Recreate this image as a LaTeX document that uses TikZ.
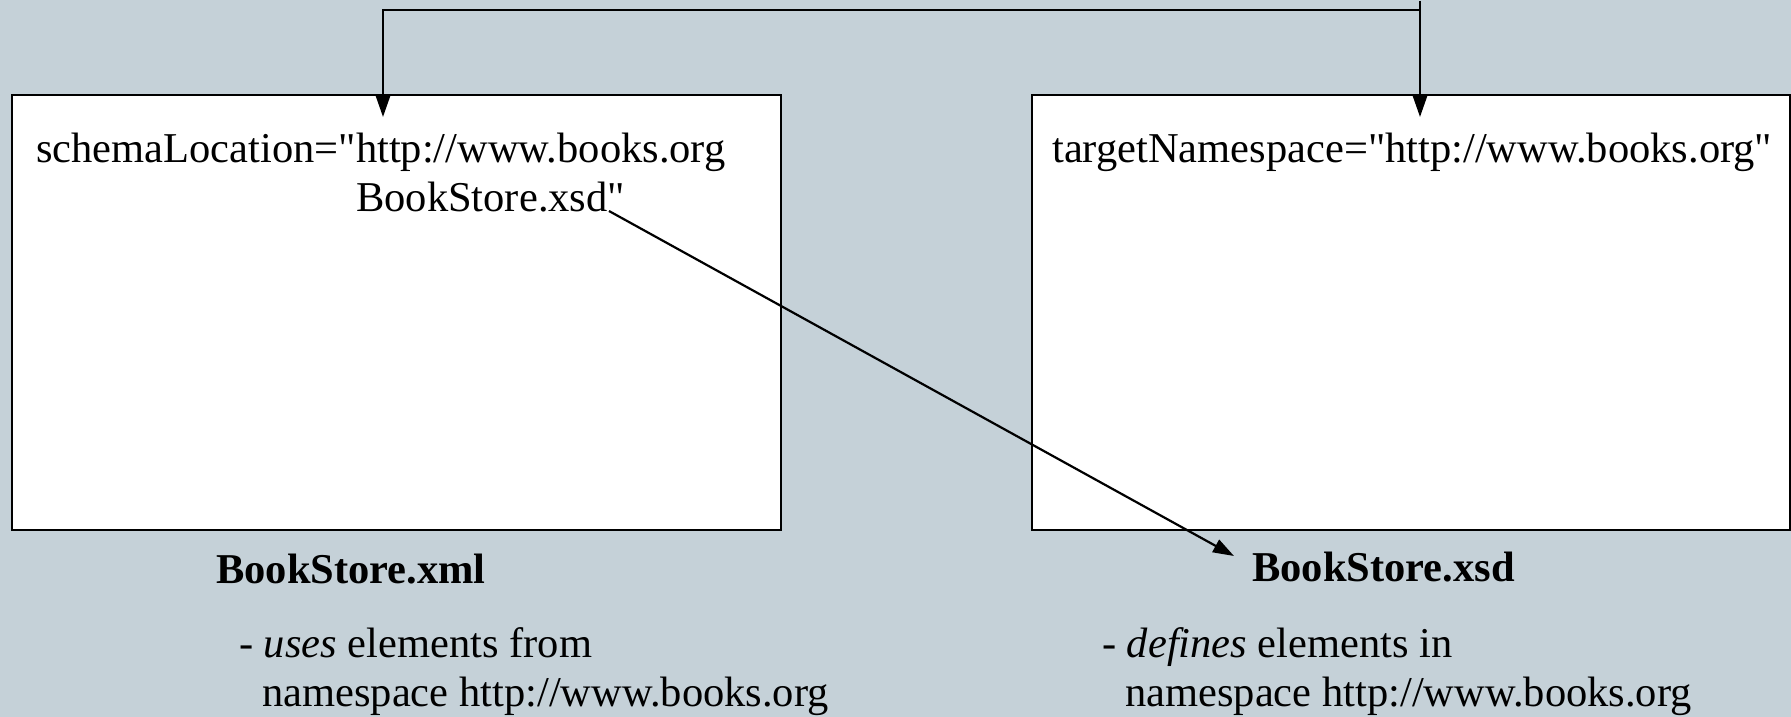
\documentclass[tikz,border=0pt]{standalone}
\usepackage{fontspec}
\newfontfamily\lser{Liberation Serif}
\usetikzlibrary{arrows.meta}
\definecolor{bgc}{RGB}{197,209,216}
\tikzset{
  docbox/.style={draw=black, line width=1.8pt, fill=white, anchor=north west, inner sep=0pt},
  txt/.style={anchor=base west, inner sep=0pt, font=\lser\fontsize{42.5}{50}\selectfont},
  ttl/.style={anchor=base west, inner sep=0pt, font=\lser\fontsize{42.5}{50}\selectfont\bfseries},
  conn/.style={line width=2.2pt, -{Triangle[length=21pt,width=14pt]}}
}
\begin{document}
\begin{tikzpicture}[x=1pt,y=-1pt]
\fill[bgc] (0,0) rectangle (1791,717);
\useasboundingbox (0,0) rectangle (1791,717);
\node[docbox, minimum width=769pt, minimum height=435pt] (xmlbox) at (11,94) {};
\node[docbox, minimum width=758pt, minimum height=435pt] (xsdbox) at (1031,94) {};
\node[txt] (loc1) at (36,162) {schemaLocation="http://www.books.org};
\node[txt] (loc2) at (356,211) {BookStore.xsd"};
\node[txt] (tns) at (1052,162) {targetNamespace="http://www.books.org"};
\node[ttl] (xmlname) at (216,583) {BookStore.xml};
\node[ttl] (xsdname) at (1252,581) {BookStore.xsd};
\node[txt] (uses1) at (239,657) {- \textit{uses} elements from};
\node[txt] (uses2) at (262,706) {namespace http://www.books.org};
\node[txt] (def1) at (1102,657) {- \textit{defines} elements in};
\node[txt] (def2) at (1125,706) {namespace http://www.books.org};
\coordinate (topR) at (1420,1);
\coordinate (bend) at (1420,10);
\coordinate (xmlIn) at (383,117);
\coordinate (xsdIn) at (1420,117);
\coordinate (locEnd) at (609,211);
\coordinate (xsdTip) at (1234,556);
\draw[conn] (bend) -| (xmlIn);
\draw[conn] (topR) -- (xsdIn);
\draw[conn] (locEnd) -- (xsdTip);
\end{tikzpicture}
\end{document}
